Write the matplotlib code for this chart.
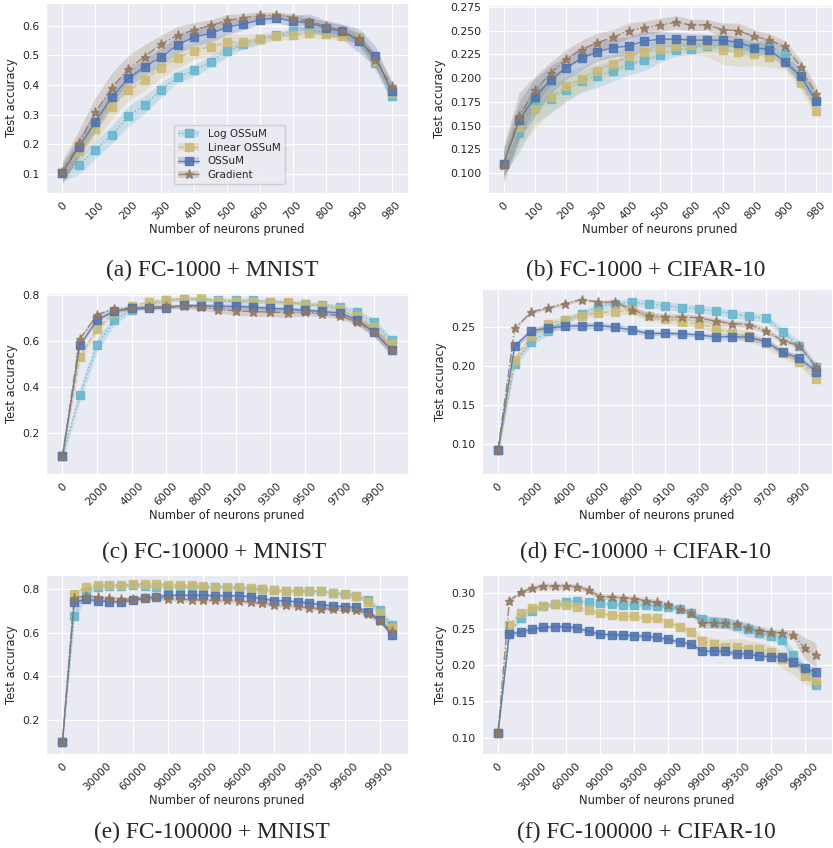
import numpy as np
import seaborn as sns
from matplotlib import pyplot as plt
from matplotlib.patches import Patch

sns.set_style("darkgrid")
plt.rcParams['font.family'] = ['DejaVu Sans']

nazwy = ["Log OSSuM", "Linear OSSuM", "OSSuM", "Gradient"]
kolory = ['#64B5CD', '#CCB974', '#4C72B0', '#937860']
style = [':', '--', '-', '-.']
markery = ['s', 's', 's', '*']

# (a) FC-1000 + MNIST
x_a = [0, 50, 100, 150, 200, 250, 300, 350, 400, 450, 500, 550, 600, 650, 700, 750, 800, 850, 900, 950, 980]
log_a = [0.104, 0.128, 0.181, 0.232, 0.294, 0.334, 0.383, 0.428, 0.449, 0.479, 0.515, 0.537, 0.554, 0.568, 0.582, 0.588, 0.577, 0.575, 0.558, 0.474, 0.364]
lin_a = [0.104, 0.177, 0.250, 0.325, 0.382, 0.417, 0.459, 0.491, 0.516, 0.530, 0.544, 0.546, 0.555, 0.566, 0.568, 0.574, 0.571, 0.564, 0.562, 0.480, 0.372]
oss_a = [0.104, 0.191, 0.275, 0.360, 0.422, 0.462, 0.494, 0.536, 0.562, 0.574, 0.595, 0.606, 0.620, 0.626, 0.616, 0.610, 0.593, 0.581, 0.550, 0.498, 0.378]
grad_a = [0.105, 0.203, 0.308, 0.391, 0.454, 0.496, 0.538, 0.568, 0.586, 0.601, 0.618, 0.627, 0.635, 0.637, 0.628, 0.614, 0.600, 0.583, 0.555, 0.485, 0.397]
log_a_sd = [0.03, 0.03, 0.03, 0.03, 0.035, 0.03, 0.025, 0.02, 0.02, 0.02, 0.02, 0.015, 0.012, 0.01, 0.01, 0.01, 0.012, 0.015, 0.02, 0.025, 0.02]
lin_a_sd = [0.03, 0.035, 0.04, 0.04, 0.035, 0.035, 0.035, 0.035, 0.03, 0.03, 0.03, 0.025, 0.02, 0.015, 0.015, 0.015, 0.015, 0.015, 0.015, 0.02, 0.02]
oss_a_sd = [0.03, 0.035, 0.035, 0.035, 0.03, 0.03, 0.03, 0.03, 0.03, 0.03, 0.025, 0.02, 0.015, 0.015, 0.02, 0.03, 0.025, 0.025, 0.04, 0.035, 0.03]
grad_a_sd = [0.04, 0.045, 0.05, 0.05, 0.045, 0.04, 0.03, 0.03, 0.025, 0.02, 0.02, 0.015, 0.012, 0.01, 0.012, 0.015, 0.015, 0.02, 0.02, 0.025, 0.02]

# (b) FC-1000 + CIFAR-10
x_b = x_a
log_b = [0.110, 0.142, 0.173, 0.178, 0.188, 0.197, 0.202, 0.208, 0.214, 0.219, 0.2245, 0.230, 0.231, 0.234, 0.2347, 0.2333, 0.230, 0.234, 0.225, 0.198, 0.176]
lin_b = [0.109, 0.148, 0.167, 0.180, 0.192, 0.199, 0.208, 0.215, 0.223, 0.227, 0.231, 0.234, 0.235, 0.2347, 0.230, 0.227, 0.225, 0.222, 0.217, 0.1945, 0.165]
oss_b = [0.110, 0.156, 0.180, 0.198, 0.211, 0.221, 0.228, 0.232, 0.234, 0.239, 0.241, 0.241, 0.240, 0.240, 0.240, 0.2375, 0.232, 0.230, 0.217, 0.202, 0.1755]
grad_b = [0.109, 0.160, 0.187, 0.205, 0.220, 0.230, 0.2375, 0.243, 0.250, 0.253, 0.256, 0.2587, 0.256, 0.256, 0.251, 0.250, 0.244, 0.240, 0.2333, 0.212, 0.183]
log_b_sd = [0.012, 0.02, 0.02, 0.015, 0.013, 0.012, 0.012, 0.011, 0.011, 0.011, 0.008, 0.007, 0.006, 0.006, 0.006, 0.007, 0.008, 0.008, 0.007, 0.008, 0.007]
lin_b_sd = [0.012, 0.022, 0.02, 0.016, 0.015, 0.013, 0.012, 0.011, 0.01, 0.01, 0.009, 0.008, 0.01, 0.012, 0.015, 0.015, 0.012, 0.01, 0.008, 0.007, 0.008]
oss_b_sd = [0.015, 0.02, 0.02, 0.015, 0.012, 0.012, 0.01, 0.01, 0.01, 0.01, 0.008, 0.007, 0.007, 0.006, 0.006, 0.006, 0.006, 0.006, 0.006, 0.008, 0.007]
grad_b_sd = [0.02, 0.025, 0.015, 0.012, 0.01, 0.01, 0.01, 0.008, 0.008, 0.007, 0.007, 0.007, 0.006, 0.006, 0.007, 0.008, 0.007, 0.007, 0.006, 0.007, 0.008]

# (c) FC-10000 + MNIST
x_c = [0, 1000, 2000, 3000, 4000, 5000, 6000, 7000, 8000, 9000, 9100, 9200, 9300, 9400, 9500, 9600, 9700, 9800, 9900, 9990]
log_c = [0.098, 0.363, 0.582, 0.688, 0.735, 0.752, 0.775, 0.781, 0.778, 0.775, 0.775, 0.775, 0.769, 0.764, 0.761, 0.755, 0.746, 0.723, 0.679, 0.601]
lin_c = [0.098, 0.528, 0.652, 0.720, 0.752, 0.766, 0.778, 0.782, 0.785, 0.772, 0.769, 0.768, 0.768, 0.768, 0.759, 0.749, 0.737, 0.705, 0.659, 0.586]
oss_c = [0.098, 0.579, 0.691, 0.727, 0.740, 0.740, 0.743, 0.753, 0.752, 0.749, 0.749, 0.746, 0.740, 0.737, 0.732, 0.727, 0.720, 0.691, 0.636, 0.560]
grad_c = [0.098, 0.607, 0.713, 0.737, 0.742, 0.746, 0.749, 0.749, 0.746, 0.735, 0.730, 0.726, 0.724, 0.721, 0.724, 0.716, 0.708, 0.682, 0.636, 0.560]
log_c_sd = [0.02, 0.03, 0.03, 0.02, 0.01, 0.008, 0.008, 0.008, 0.008, 0.01, 0.01, 0.01, 0.01, 0.01, 0.01, 0.01, 0.012, 0.012, 0.015, 0.015]
lin_c_sd = [0.02, 0.02, 0.015, 0.01, 0.008, 0.008, 0.008, 0.008, 0.008, 0.008, 0.008, 0.008, 0.008, 0.008, 0.008, 0.008, 0.01, 0.012, 0.015, 0.015]
oss_c_sd = [0.02, 0.01, 0.01, 0.008, 0.008, 0.008, 0.008, 0.008, 0.01, 0.012, 0.012, 0.012, 0.012, 0.012, 0.012, 0.012, 0.012, 0.015, 0.02, 0.02]
grad_c_sd = [0.02, 0.01, 0.01, 0.008, 0.008, 0.008, 0.008, 0.01, 0.012, 0.015, 0.02, 0.02, 0.02, 0.02, 0.015, 0.012, 0.012, 0.015, 0.02, 0.025]

# (d) FC-10000 + CIFAR-10
x_d = x_c
log_d = [0.0923, 0.2034, 0.2316, 0.2449, 0.259, 0.2675, 0.2761, 0.2799, 0.282, 0.2799, 0.2778, 0.2752, 0.2735, 0.2709, 0.2671, 0.2641, 0.2615, 0.244, 0.2256, 0.1991]
lin_d = [0.0923, 0.2085, 0.2393, 0.2543, 0.2598, 0.265, 0.2684, 0.2701, 0.2718, 0.2641, 0.2607, 0.2568, 0.2543, 0.2487, 0.2427, 0.2385, 0.2299, 0.2171, 0.2051, 0.1838]
oss_d = [0.0923, 0.2256, 0.2457, 0.2487, 0.2513, 0.2521, 0.2521, 0.250, 0.2466, 0.2419, 0.2423, 0.2415, 0.2402, 0.2376, 0.238, 0.2372, 0.2316, 0.218, 0.2103, 0.1932]
grad_d = [0.0923, 0.2487, 0.2697, 0.2748, 0.2803, 0.2855, 0.2825, 0.282, 0.2726, 0.265, 0.2633, 0.2633, 0.262, 0.2577, 0.2547, 0.2534, 0.2457, 0.2329, 0.2265, 0.1991]
log_d_sd = [0.008, 0.005, 0.005, 0.005, 0.004, 0.004, 0.004, 0.004, 0.005, 0.005, 0.005, 0.005, 0.005, 0.005, 0.005, 0.005, 0.005, 0.005, 0.008, 0.006]
lin_d_sd = [0.008, 0.005, 0.005, 0.004, 0.004, 0.004, 0.004, 0.004, 0.005, 0.005, 0.005, 0.005, 0.005, 0.006, 0.006, 0.007, 0.007, 0.006, 0.005, 0.004]
oss_d_sd = [0.008, 0.004, 0.004, 0.004, 0.004, 0.004, 0.004, 0.004, 0.004, 0.003, 0.003, 0.003, 0.003, 0.004, 0.004, 0.004, 0.004, 0.004, 0.004, 0.005]
grad_d_sd = [0.008, 0.002, 0.002, 0.002, 0.002, 0.002, 0.002, 0.003, 0.004, 0.004, 0.004, 0.004, 0.004, 0.004, 0.004, 0.004, 0.004, 0.003, 0.003, 0.003]

# (e) FC-100000 + MNIST
x_e = [0, 10000, 20000, 30000, 40000, 50000, 60000, 70000, 80000, 90000, 91000, 92000, 93000, 94000, 95000,
       96000, 97000, 98000, 99000, 99100, 99200, 99300, 99400, 99500, 99600, 99700, 99800, 99900, 99990]
log_e = [0.10, 0.676, 0.786, 0.811, 0.814, 0.814, 0.817, 0.814, 0.811, 0.811, 0.808, 0.808, 0.808, 0.808, 0.804,
         0.804, 0.801, 0.798, 0.795, 0.792, 0.792, 0.792, 0.789, 0.783, 0.777, 0.768, 0.749, 0.703, 0.635]
lin_e = [0.10, 0.777, 0.811, 0.817, 0.820, 0.820, 0.821, 0.823, 0.823, 0.820, 0.820, 0.817, 0.814, 0.811, 0.811,
         0.808, 0.803, 0.800, 0.795, 0.792, 0.792, 0.792, 0.789, 0.783, 0.775, 0.768, 0.742, 0.691, 0.619]
oss_e = [0.10, 0.740, 0.752, 0.746, 0.742, 0.740, 0.749, 0.757, 0.765, 0.771, 0.771, 0.771, 0.771, 0.769, 0.769,
         0.769, 0.765, 0.755, 0.746, 0.746, 0.740, 0.736, 0.728, 0.722, 0.719, 0.716, 0.696, 0.658, 0.589]
grad_e = [0.10, 0.760, 0.768, 0.762, 0.759, 0.752, 0.755, 0.759, 0.762, 0.755, 0.752, 0.751, 0.749, 0.748, 0.748,
          0.745, 0.740, 0.734, 0.728, 0.725, 0.720, 0.713, 0.710, 0.710, 0.710, 0.703, 0.685, 0.654, 0.609]
log_e_sd = [0.015, 0.03, 0.02, 0.01, 0.008, 0.008, 0.008, 0.008, 0.008, 0.008, 0.008, 0.008, 0.008, 0.008, 0.008,
            0.008, 0.008, 0.008, 0.008, 0.008, 0.008, 0.008, 0.008, 0.008, 0.008, 0.01, 0.012, 0.015, 0.015]
lin_e_sd = [0.015, 0.012, 0.008, 0.006, 0.006, 0.006, 0.006, 0.006, 0.006, 0.006, 0.006, 0.006, 0.006, 0.006, 0.006,
            0.006, 0.006, 0.006, 0.006, 0.006, 0.006, 0.006, 0.006, 0.006, 0.008, 0.008, 0.01, 0.012, 0.012]
oss_e_sd = [0.015, 0.01, 0.01, 0.008, 0.008, 0.008, 0.008, 0.008, 0.008, 0.008, 0.008, 0.008, 0.008, 0.008, 0.008,
            0.008, 0.008, 0.008, 0.008, 0.008, 0.008, 0.008, 0.008, 0.008, 0.008, 0.008, 0.01, 0.012, 0.012]
grad_e_sd = [0.015, 0.01, 0.01, 0.01, 0.01, 0.01, 0.01, 0.01, 0.01, 0.01, 0.01, 0.01, 0.01, 0.01, 0.01,
             0.01, 0.01, 0.01, 0.01, 0.01, 0.01, 0.01, 0.01, 0.01, 0.01, 0.01, 0.012, 0.015, 0.015]

# (f) FC-100000 + CIFAR-10
x_f = x_e
log_f = [0.106, 0.2448, 0.2654, 0.2751, 0.2815, 0.2843, 0.287, 0.2884, 0.287, 0.2852, 0.2843, 0.2834, 0.2834, 0.2824, 0.2815,
         0.2797, 0.2769, 0.2714, 0.2631, 0.2595, 0.2586, 0.254, 0.2494, 0.2448, 0.2402, 0.2347, 0.214, 0.1933, 0.1726]
lin_f = [0.106, 0.2553, 0.2714, 0.2783, 0.282, 0.2838, 0.2824, 0.2797, 0.276, 0.2714, 0.2691, 0.2673, 0.2673, 0.265, 0.2645,
         0.2586, 0.253, 0.2457, 0.2328, 0.2291, 0.2255, 0.2255, 0.2227, 0.2218, 0.2181, 0.208, 0.2025, 0.185, 0.1795]
oss_f = [0.106, 0.2425, 0.2461, 0.2494, 0.2521, 0.253, 0.253, 0.2512, 0.2466, 0.2425, 0.242, 0.2415, 0.2406, 0.2397, 0.2383,
         0.2356, 0.2319, 0.2291, 0.2195, 0.219, 0.219, 0.2154, 0.2154, 0.2126, 0.2117, 0.2108, 0.2048, 0.1956, 0.1901]
grad_f = [0.106, 0.2889, 0.3008, 0.3059, 0.3091, 0.3091, 0.3091, 0.3082, 0.3036, 0.2944, 0.2944, 0.2926, 0.2916, 0.2889, 0.2866,
          0.2834, 0.2778, 0.2723, 0.2586, 0.2586, 0.2576, 0.2562, 0.2512, 0.2475, 0.2457, 0.2448, 0.2415, 0.2236, 0.214]
log_f_sd = [0.006, 0.004, 0.004, 0.003, 0.003, 0.003, 0.003, 0.003, 0.003, 0.003, 0.003, 0.003, 0.003, 0.003, 0.003,
            0.003, 0.003, 0.004, 0.006, 0.008, 0.008, 0.008, 0.01, 0.008, 0.006, 0.006, 0.008, 0.008, 0.008]
lin_f_sd = [0.006, 0.004, 0.004, 0.003, 0.003, 0.003, 0.003, 0.003, 0.003, 0.003, 0.003, 0.003, 0.003, 0.003, 0.004,
            0.004, 0.005, 0.006, 0.008, 0.008, 0.01, 0.012, 0.012, 0.01, 0.01, 0.012, 0.015, 0.012, 0.01]
oss_f_sd = [0.006, 0.003, 0.003, 0.003, 0.003, 0.003, 0.003, 0.003, 0.003, 0.003, 0.003, 0.003, 0.003, 0.003, 0.003,
            0.003, 0.003, 0.003, 0.004, 0.004, 0.004, 0.004, 0.004, 0.004, 0.004, 0.005, 0.005, 0.006, 0.006]
grad_f_sd = [0.006, 0.002, 0.003, 0.004, 0.004, 0.004, 0.004, 0.004, 0.004, 0.004, 0.004, 0.004, 0.004, 0.004, 0.004,
             0.004, 0.004, 0.004, 0.008, 0.008, 0.008, 0.006, 0.006, 0.006, 0.005, 0.005, 0.006, 0.015, 0.017]

panele = [
    ("(a) FC-1000 + MNIST", x_a, [log_a, lin_a, oss_a, grad_a], [log_a_sd, lin_a_sd, oss_a_sd, grad_a_sd],
     2, [0.1, 0.2, 0.3, 0.4, 0.5, 0.6], (0.035, 0.677), "%.1f"),
    ("(b) FC-1000 + CIFAR-10", x_b, [log_b, lin_b, oss_b, grad_b], [log_b_sd, lin_b_sd, oss_b_sd, grad_b_sd],
     2, [0.1, 0.125, 0.15, 0.175, 0.2, 0.225, 0.25, 0.275], (0.079, 0.277), "%.3f"),
    ("(c) FC-10000 + MNIST", x_c, [log_c, lin_c, oss_c, grad_c], [log_c_sd, lin_c_sd, oss_c_sd, grad_c_sd],
     2, [0.2, 0.4, 0.6, 0.8], (0.02, 0.807), "%.1f"),
    ("(d) FC-10000 + CIFAR-10", x_d, [log_d, lin_d, oss_d, grad_d], [log_d_sd, lin_d_sd, oss_d_sd, grad_d_sd],
     2, [0.1, 0.15, 0.2, 0.25], (0.062, 0.299), "%.2f"),
    ("(e) FC-100000 + MNIST", x_e, [log_e, lin_e, oss_e, grad_e], [log_e_sd, lin_e_sd, oss_e_sd, grad_e_sd],
     3, [0.2, 0.4, 0.6, 0.8], (0.043, 0.864), "%.1f"),
    ("(f) FC-100000 + CIFAR-10", x_f, [log_f, lin_f, oss_f, grad_f], [log_f_sd, lin_f_sd, oss_f_sd, grad_f_sd],
     3, [0.1, 0.15, 0.2, 0.25, 0.3], (0.0775, 0.3244), "%.2f"),
]

# pozycje osi w pikselach: lewo, gora, prawo, dol
pozycje = [(46, 3, 408, 193), (488, 5, 832, 193),
           (46, 293, 408, 474), (482, 289, 832, 474),
           (46, 575, 408, 754), (482, 575, 832, 754)]
podpisy_y = [276, 276, 558, 558, 838, 838]
podpisy_x = [212, 646, 214, 646, 212, 646]

W, H = 833, 848
fig = plt.figure(figsize=(W / 100, H / 100), dpi=100)


def rozmiar(m):
    return 6.5 if m == '*' else 6


for k, (tytul, xs, serie, odch, co, yticks, ylim, fmt) in enumerate(panele):
    l, t, r, b = pozycje[k]
    ax = fig.add_axes([l / W, 1 - b / H, (r - l) / W, (b - t) / H])
    idx = np.arange(len(xs))
    for i in range(4):
        m = np.array(serie[i])
        s = np.array(odch[i])
        ax.fill_between(idx, m - s, m + s, color=kolory[i], alpha=0.25, linewidth=0)
        ax.plot(idx, m, linestyle=style[i], color=kolory[i], linewidth=1.0,
                marker=markery[i], markersize=rozmiar(markery[i]), alpha=0.85, label=nazwy[i])
    ax.set_xticks(idx[::co])
    ax.set_xticklabels([str(v) for v in xs[::co]], rotation=45, fontsize=7.8)
    ax.set_yticks(yticks)
    ax.set_yticklabels([fmt % v for v in yticks], fontsize=7.8)
    ax.set_ylim(ylim)
    ax.set_xlabel("Number of neurons pruned", fontsize=8.3, labelpad=1)
    ax.set_ylabel("Test accuracy", fontsize=8.3, labelpad=3)
    ax.tick_params(axis='both', pad=1.5, colors='.15')
    if k == 0:
        uchwyty = []
        for i in range(4):
            linia = plt.Line2D([], [], linestyle=style[i], color=kolory[i], linewidth=1.0,
                               marker=markery[i], markersize=rozmiar(markery[i]), alpha=0.85)
            plama = Patch(facecolor=kolory[i], alpha=0.25, linewidth=0)
            uchwyty.append((plama, linia))
        ax.legend(uchwyty, nazwy, loc='lower left', bbox_to_anchor=(0.34, 0.02), fontsize=7.5,
                  frameon=True, facecolor='#EAEAF2', edgecolor='#CCCCCC', framealpha=0.9,
                  handlelength=2.0, borderpad=0.4, labelspacing=0.35)
    fig.text(podpisy_x[k] / W, 1 - podpisy_y[k] / H, tytul, ha='center', va='baseline',
             fontsize=16.8, family=['Liberation Serif', 'DejaVu Serif'])

fig.savefig("out.png", dpi=100, facecolor='white')
